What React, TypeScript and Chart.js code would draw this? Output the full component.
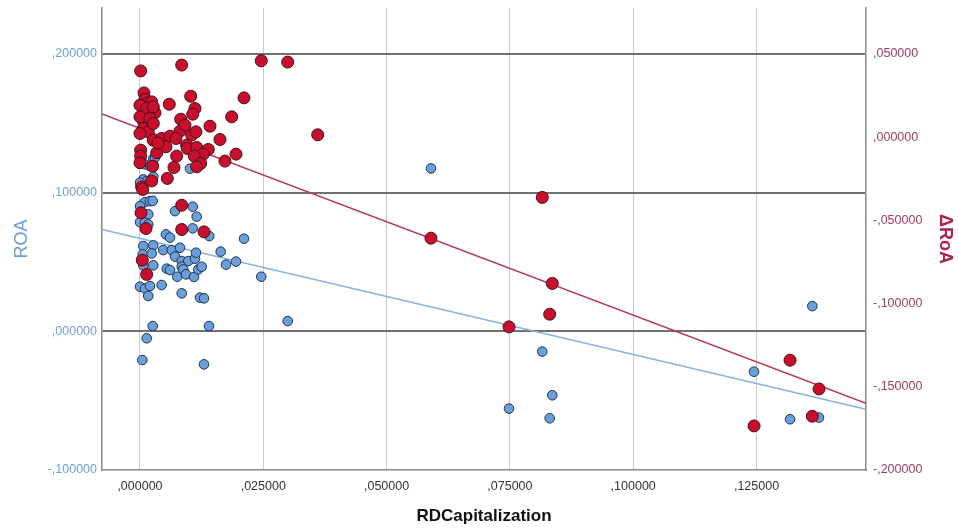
import React, { useEffect, useRef } from "react";
import { Chart, registerables } from "chart.js";

Chart.register(...registerables);

const xTicks = [0, 0.025, 0.05, 0.075, 0.1, 0.125];
const roaTicks = [-0.1, 0, 0.1, 0.2];
const droaTicks = [-0.2, -0.15, -0.1, -0.05, 0, 0.05];

// ROA (left axis) observations
const roaX = [
  0.059, 0.02109, 0.01947, 0.02459, 0.02995, 0.08157, 0.0836, 0.08307, 0.07482, 0.13632,
  0.1245, 0.1318, 0.13767, 0.0027, 0.00304, 0.00101, 0.00203, 0.01014, 0.00067, 0.00136,
  0.0027, 0.0, 0.00101, 0.00203, 0.00258, 0.0, 0.00034, 0.00168, 0.0, 0.00101,
  0.00168, 0.0071, 0.01069, 0.0115, 0.01069, 0.01405, 0.00527, 0.00608, 0.01636, 0.01744,
  0.00067, 0.0027, 0.00055, 0.00237, 0.00472, 0.00643, 0.00811, 0.0071, 0.00846, 0.00979,
  0.01115, 0.01135, 0.00067, 0.0027, 0.00541, 0.00608, 0.00846, 0.00878, 0.00756, 0.00933,
  0.01095, 0.01182, 0.01251, 0.0, 0.00101, 0.00203, 0.00168, 0.0044, 0.00846, 0.01217,
  0.01298, 0.00258, 0.01399, 0.00136, 0.00047, 0.01298,
];
const roaY = [
  0.1175, 0.0668, 0.0503, 0.0394, 0.0074, -0.0146, -0.0461, -0.0627, -0.0557, 0.0182,
  -0.0291, -0.0634, -0.0622, 0.1245, 0.1252, 0.1204, 0.1192, 0.1173, 0.1096, 0.1084,
  0.1115, 0.1072, 0.0932, 0.0939, 0.0941, 0.0903, 0.0856, 0.0844, 0.0788, 0.0784,
  0.0771, 0.0867, 0.0899, 0.0827, 0.0743, 0.0687, 0.0699, 0.0676, 0.0575, 0.0481,
  0.0615, 0.062, 0.0555, 0.0562, 0.0586, 0.0586, 0.0603, 0.0539, 0.0507, 0.0507,
  0.0524, 0.0567, 0.0476, 0.0476, 0.0452, 0.0442, 0.0466, 0.0447, 0.0394, 0.0411,
  0.0392, 0.0447, 0.0466, 0.0322, 0.0308, 0.0327, 0.0255, 0.0334, 0.0274, 0.0243,
  0.0238, 0.0038, 0.0038, -0.005, -0.0207, -0.0238,
];

// ΔRoA (right axis) observations
const droaX = [
  0.00014, 0.00846, 0.02459, 0.02995, 0.02109, 0.03603, 0.01947, 0.059, 0.08157, 0.0836,
  0.08307, 0.07482, 0.1318, 0.13767, 0.1245, 0.13632, 0.00081, 0.00101, 0.00168, 0.00237,
  0.0, 0.00136, 0.00304, 0.00594, 0.01028, 0.01115, 0.01069, 0.00067, 0.0, 0.00825,
  0.01859, 0.00067, 0.00168, 0.0, 0.0027, 0.0044, 0.00608, 0.00811, 0.0073, 0.01048,
  0.01135, 0.01419, 0.01622, 0.00527, 0.00947, 0.00959, 0.0115, 0.01385, 0.01283, 0.00744,
  0.01101, 0.00014, 0.00014, 0.0, 0.00339, 0.00258, 0.01231, 0.0115, 0.01723, 0.00689,
  0.00554, 0.00237, 0.00034, 0.00055, 0.00846, 0.0002, 0.00122, 0.00846, 0.01298, 0.00047,
  0.00136, 0.0027, 0.00203, 0.0027, 0.00365, 0.00912,
];
const droaY = [
  0.0398, 0.0433, 0.0459, 0.0451, 0.0236, 0.0014, -0.0102, -0.0607, -0.0362, -0.0879,
  -0.1064, -0.114, -0.134, -0.1513, -0.1735, -0.1677, 0.0266, 0.0227, 0.0206, 0.0212,
  0.0192, 0.0172, 0.0146, 0.0198, 0.0246, 0.0172, 0.0138, 0.0098, 0.0122, 0.0108,
  0.0122, 0.0052, 0.0032, 0.0022, -0.0018, -0.0008, 0.0006, 0.0036, -0.0008, 0.0012,
  0.0032, 0.0066, -0.0014, -0.0058, -0.0048, -0.0068, -0.0062, -0.0074, -0.0102, -0.0114,
  -0.0114, -0.0078, -0.0114, -0.0154, -0.0094, -0.0174, -0.0158, -0.0178, -0.0144, -0.0182,
  -0.0248, -0.0263, -0.0299, -0.0314, -0.0409, -0.0455, -0.0549, -0.0555, -0.0569, -0.0739,
  -0.0825, 0.0182, 0.0114, 0.0082, -0.0036, 0.0072,
];

// Linear fit lines (end points at the axis limits)
const fitX = [-0.0077, 0.1472];
const roaFit = [0.0735, -0.0562];
const droaFit = [0.014, -0.1599];

const X_MIN = -0.0077;
const X_MAX = 0.1472;
const ROA_MIN = -0.1;
const ROA_MAX = 0.2332;
const DROA_MIN = -0.2;
const DROA_MAX = 0.0776;

const FONT = "'Liberation Sans', Arial, sans-serif";

const fmt = (v: number) => {
  const s = Math.abs(v).toFixed(6).split(".")[1];
  return (v < -1e-9 ? "-" : "") + "," + s;
};

export default function App() {
  const ref = useRef<HTMLCanvasElement | null>(null);

  useEffect(() => {
    if (!ref.current) return;
    const pts = (xs: number[], ys: number[]) => xs.map((x, i) => ({ x, y: ys[i] }));
    const chart = new Chart(ref.current, {
      type: "scatter",
      data: {
        datasets: [
          {
            label: "ΔRoA",
            data: pts(droaX, droaY),
            yAxisID: "y1",
            backgroundColor: "#c8102e",
            borderColor: "#4a0c18",
            borderWidth: 1,
            pointRadius: 6,
            order: 0,
          },
          {
            label: "ROA",
            data: pts(roaX, roaY),
            yAxisID: "y",
            backgroundColor: "#6b9fd8",
            borderColor: "#1c2f55",
            borderWidth: 1,
            pointRadius: 4.8,
            order: 1,
          },
          {
            label: "ΔRoA fit",
            type: "line",
            data: pts(fitX, droaFit),
            yAxisID: "y1",
            borderColor: "#b7385a",
            borderWidth: 1.5,
            pointRadius: 0,
            showLine: true,
            fill: false,
            order: 2,
          },
          {
            label: "ROA fit",
            type: "line",
            data: pts(fitX, roaFit),
            yAxisID: "y",
            borderColor: "#82b2de",
            borderWidth: 1.5,
            pointRadius: 0,
            showLine: true,
            fill: false,
            order: 3,
          },
        ],
      } as any,
      options: {
        responsive: false,
        animation: false,
        devicePixelRatio: 1,
        layout: { padding: { top: 8, left: 0, right: 0, bottom: 0 } },
        plugins: { legend: { display: false }, tooltip: { enabled: false } },
        scales: {
          x: {
            type: "linear",
            position: "bottom",
            min: X_MIN,
            max: X_MAX,
            afterBuildTicks: (s: any) => {
              s.ticks = xTicks.map((v) => ({ value: v }));
            },
            afterFit: (s: any) => {
              s.height = 60;
              s.paddingLeft = 0;
              s.paddingRight = 0;
            },
            grid: { color: "#c9c9c9", lineWidth: 1, drawTicks: false },
            border: { display: true, color: "#8a8a8a", width: 1.5 },
            ticks: {
              callback: (v: any) => fmt(Number(v)),
              color: "#333333",
              font: { family: FONT, size: 12.5 },
              padding: 9,
              autoSkip: false,
              maxRotation: 0,
            },
            title: {
              display: true,
              text: "RDCapitalization",
              color: "#111111",
              font: { family: FONT, size: 17, weight: "bold" },
              padding: { top: 0, bottom: 3 },
            },
          },
          y: {
            type: "linear",
            position: "left",
            min: ROA_MIN,
            max: ROA_MAX,
            afterBuildTicks: (s: any) => {
              s.ticks = roaTicks.map((v) => ({ value: v }));
            },
            afterFit: (s: any) => {
              s.width = 102;
              s.paddingTop = 0;
              s.paddingBottom = 0;
            },
            grid: {
              color: (c: any) => (c.tick && c.tick.value > -0.05 ? "#707070" : "rgba(0,0,0,0)"),
              lineWidth: 2,
              drawTicks: false,
            },
            border: { display: true, color: "#8a8a8a", width: 1.5 },
            ticks: {
              callback: (v: any) => fmt(Number(v)),
              color: "#6f9fd0",
              font: { family: FONT, size: 12.5 },
              padding: 5,
            },
            title: {
              display: true,
              text: "ROA",
              color: "#6a9fd4",
              font: { family: FONT, size: 18 },
              padding: { top: 11, bottom: 0 },
            },
          },
          y1: {
            type: "linear",
            position: "right",
            min: DROA_MIN,
            max: DROA_MAX,
            afterBuildTicks: (s: any) => {
              s.ticks = droaTicks.map((v) => ({ value: v }));
            },
            afterFit: (s: any) => {
              s.width = 93;
              s.paddingTop = 0;
              s.paddingBottom = 0;
            },
            grid: { display: false, drawTicks: false },
            border: { display: true, color: "#8a8a8a", width: 1.5 },
            ticks: {
              callback: (v: any) => fmt(Number(v)),
              color: "#a23a60",
              font: { family: FONT, size: 12.5 },
              padding: 7,
            },
            title: {
              display: true,
              text: "ΔRoA",
              color: "#b0204c",
              font: { family: FONT, size: 18, weight: "bold" },
              padding: { top: 3, bottom: 0 },
            },
          },
        },
      } as any,
    });
    return () => chart.destroy();
  }, []);

  return (
    <div
      style={{
        position: "fixed",
        left: 0,
        top: 0,
        width: 959,
        height: 530,
        background: "#ffffff",
      }}
    >
      <canvas ref={ref} width={959} height={530} style={{ width: 959, height: 530, display: "block" }} />
    </div>
  );
}
